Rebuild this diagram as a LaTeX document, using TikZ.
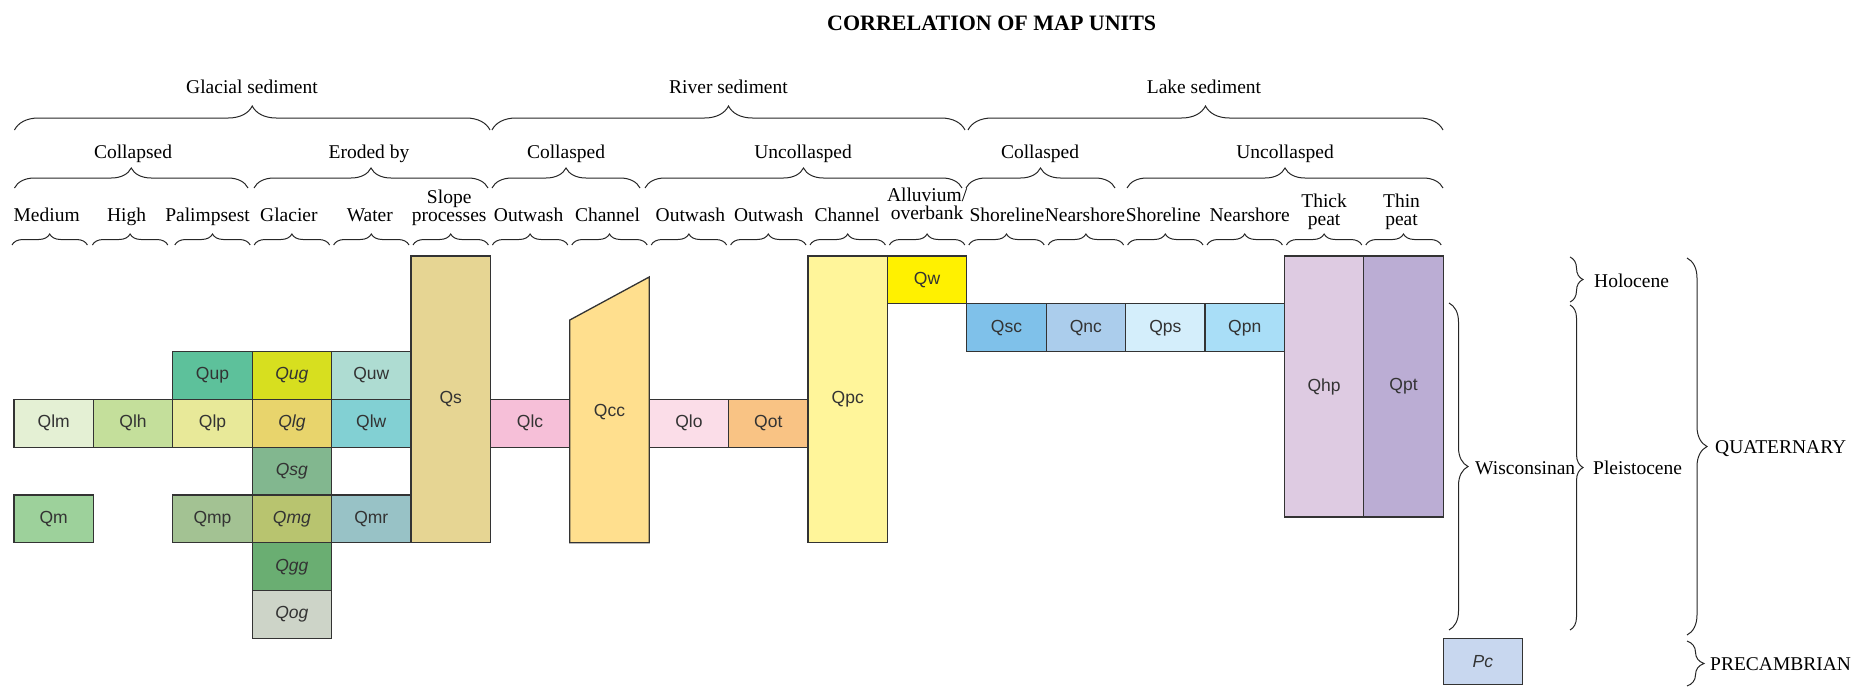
\documentclass[tikz,border=0pt]{standalone}
\usepackage{fontspec}
\setmainfont{Liberation Serif}
\newfontfamily\unitfont{Liberation Sans}
\usetikzlibrary{decorations.pathreplacing}

\definecolor{lineg}{HTML}{333333}
\definecolor{txtg}{HTML}{333333}
\definecolor{cQlm}{HTML}{E4F0D4}
\definecolor{cQlh}{HTML}{C4DF9B}
\definecolor{cQlp}{HTML}{E8E999}
\definecolor{cQup}{HTML}{5DC19B}
\definecolor{cQug}{HTML}{D7DF1F}
\definecolor{cQuw}{HTML}{AEDCD2}
\definecolor{cQlg}{HTML}{E8D46C}
\definecolor{cQlw}{HTML}{82D0D3}
\definecolor{cQsg}{HTML}{82B78F}
\definecolor{cQm}{HTML}{9DD19B}
\definecolor{cQmp}{HTML}{A3C293}
\definecolor{cQmg}{HTML}{B8C46F}
\definecolor{cQmr}{HTML}{98C2C6}
\definecolor{cQgg}{HTML}{6AAE72}
\definecolor{cQog}{HTML}{CDD4C8}
\definecolor{cQs}{HTML}{E6D593}
\definecolor{cQlc}{HTML}{F6BFD8}
\definecolor{cQcc}{HTML}{FFDF8E}
\definecolor{cQlo}{HTML}{FBDDE8}
\definecolor{cQot}{HTML}{F9C384}
\definecolor{cQpc}{HTML}{FFF59A}
\definecolor{cQw}{HTML}{FFF100}
\definecolor{cQsc}{HTML}{7FC1EA}
\definecolor{cQnc}{HTML}{ABCDEC}
\definecolor{cQps}{HTML}{D4EEFB}
\definecolor{cQpn}{HTML}{A9DEF7}
\definecolor{cQhp}{HTML}{DECBE2}
\definecolor{cQpt}{HTML}{BBADD4}
\definecolor{cPc}{HTML}{C8D7EF}

\newcommand\cw{79.4}
\newcommand\rh{47.8}

\tikzset{
  unitbox/.style={draw=lineg, line width=1.3pt, inner sep=0pt, outer sep=0pt, anchor=north west,
    text=txtg, font=\unitfont\fontsize{17.5}{18}\selectfont, minimum width=\cw pt},
  unitlabel/.style={inner sep=0pt, text=txtg, font=\unitfont\fontsize{17.5}{18}\selectfont},
  brc/.style={draw=black!85, line width=1pt, decorate, decoration={brace, amplitude=#1}},
  head/.style={inner sep=0pt, font=\fontsize{19.5}{18}\selectfont, anchor=base},
  side/.style={inner sep=0pt, font=\fontsize{19.5}{20}\selectfont, anchor=west},
}

\newcommand\mapunit[6]{\node[unitbox, fill=#5, minimum height=#4*\rh pt] (#1) at ({14+#2*\cw},{256+#3*\rh}) {#6};}
\newcommand\stacklab[1]{\begin{tabular}[b]{@{}c@{}}#1\end{tabular}}

\begin{document}
\begin{tikzpicture}[x=1pt,y=-1pt]
\useasboundingbox (0,0) rectangle (1858,686);

% title
\node[anchor=base west, inner sep=0pt, font=\bfseries\fontsize{22}{24}\selectfont] (title) at (827,30) {CORRELATION OF MAP UNITS};

% level 1
\draw[brc=24] (14.5,130) -- (490,130);
\draw[brc=24] (492,130) -- (965,130);
\draw[brc=24] (968,130) -- (1443,130);
\node[head] (h1a) at (252,93) {Glacial sediment};
\node[head] (h1b) at (728.5,93) {River sediment};
\node[head] (h1c) at (1204,93) {Lake sediment};

% level 2
\draw[brc=20] (14.5,188) -- (248,188);
\draw[brc=20] (254,188) -- (488,188);
\draw[brc=20] (492,188) -- (640,188);
\draw[brc=20] (645,188) -- (962,188);
\draw[brc=20] (966,188) -- (1115,188);
\draw[brc=20] (1127,188) -- (1443,188);
\node[head] (h2a) at (133,158) {Collapsed};
\node[head] (h2b) at (369,158) {Eroded by};
\node[head] (h2c) at (566,158) {Collasped};
\node[head] (h2d) at (803,158) {Uncollasped};
\node[head] (h2e) at (1040,158) {Collasped};
\node[head] (h2f) at (1285,158) {Uncollasped};

% level 3
\foreach \i/\bx/\dx/\yb/\lab in {
  0/-4/-7/221.5/Medium, 1/-3/-6.5/221.5/High, 2/0/-5/221.5/Palimpsest,
  3/0/-3/221.5/Glacier, 4/0/-1.5/221.5/Water, 5/0/-1.5/221.5/{Slope\\processes},
  6/0/-1.5/221.5/Outwash, 7/0/-2/221.5/Channel, 8/0/1.5/221.5/Outwash,
  9/0/0.5/221.5/Outwash, 10/0/-0.5/221.5/Channel, 11/0/0/219/{Alluvium/\\[-1.5pt]overbank},
  12/0/0.5/221.5/Shoreline, 13/0/-1/221.5/Nearshore, 14/0/-2/221.5/Shoreline,
  15/0/5/221.5/Nearshore, 16/0/0/225/{Thick\\peat}, 17/0/-2/225/{Thin\\peat}}{
  \draw[brc=11] ({14+\i*\cw+2+\bx},245) -- ({14+(\i+1)*\cw-2+\bx},245);
  \node[head] (t\i) at ({14+(\i+0.5)*\cw+\dx},\yb) {\stacklab{\lab}};
}

% glacial units
\mapunit{Qup}{2}{2}{1}{cQup}{Qup}
\mapunit{Qug}{3}{2}{1}{cQug}{\textit{Qug}}
\mapunit{Quw}{4}{2}{1}{cQuw}{Quw}
\mapunit{Qlm}{0}{3}{1}{cQlm}{Qlm}
\mapunit{Qlh}{1}{3}{1}{cQlh}{Qlh}
\mapunit{Qlp}{2}{3}{1}{cQlp}{Qlp}
\mapunit{Qlg}{3}{3}{1}{cQlg}{\textit{Qlg}}
\mapunit{Qlw}{4}{3}{1}{cQlw}{Qlw}
\mapunit{Qsg}{3}{4}{1}{cQsg}{\textit{Qsg}}
\mapunit{Qm}{0}{5}{1}{cQm}{Qm}
\mapunit{Qmp}{2}{5}{1}{cQmp}{Qmp}
\mapunit{Qmg}{3}{5}{1}{cQmg}{\textit{Qmg}}
\mapunit{Qmr}{4}{5}{1}{cQmr}{Qmr}
\mapunit{Qgg}{3}{6}{1}{cQgg}{\textit{Qgg}}
\mapunit{Qog}{3}{7}{1}{cQog}{\textit{Qog}}
\mapunit{Qs}{5}{0}{6}{cQs}{Qs}

% river units
\mapunit{Qlc}{6}{3}{1}{cQlc}{Qlc}
\draw[draw=lineg, line width=1.3pt, fill=cQcc] (569.8,542.8) -- (649.2,542.8) -- (649.2,277) -- (569.8,320) -- cycle;
\node[unitlabel] (Qcc) at (609.5,412) {Qcc};
\mapunit{Qlo}{8}{3}{1}{cQlo}{Qlo}
\mapunit{Qot}{9}{3}{1}{cQot}{Qot}
\mapunit{Qpc}{10}{0}{6}{cQpc}{Qpc}
\mapunit{Qw}{11}{0}{1}{cQw}{Qw}

% lake units
\mapunit{Qsc}{12}{1}{1}{cQsc}{Qsc}
\mapunit{Qnc}{13}{1}{1}{cQnc}{Qnc}
\mapunit{Qps}{14}{1}{1}{cQps}{Qps}
\mapunit{Qpn}{15}{1}{1}{cQpn}{Qpn}
\mapunit{Qhp}{16}{0}{5.46}{cQhp}{Qhp}
\mapunit{Qpt}{17}{0}{5.46}{cQpt}{Qpt}

% precambrian
\mapunit{Pc}{18}{8}{0.965}{cPc}{\textit{Pc}}

% time braces
\draw[brc=19] (1449,303) -- (1449,630);
\draw[brc=13] (1570,257) -- (1570,302);
\draw[brc=13] (1570,305) -- (1570,630);
\draw[brc=20] (1687,258) -- (1687,635);
\draw[brc=17] (1687,641) -- (1687,686);
\node[side] (wis) at (1475,468) {Wisconsinan};
\node[side] (hol) at (1594,281) {Holocene};
\node[side] (ple) at (1593,468) {Pleistocene};
\node[side] (qua) at (1715,449) {QUATERNARY};
\node[side] (pre) at (1710,664) {PRECAMBRIAN};
\end{tikzpicture}
\end{document}
